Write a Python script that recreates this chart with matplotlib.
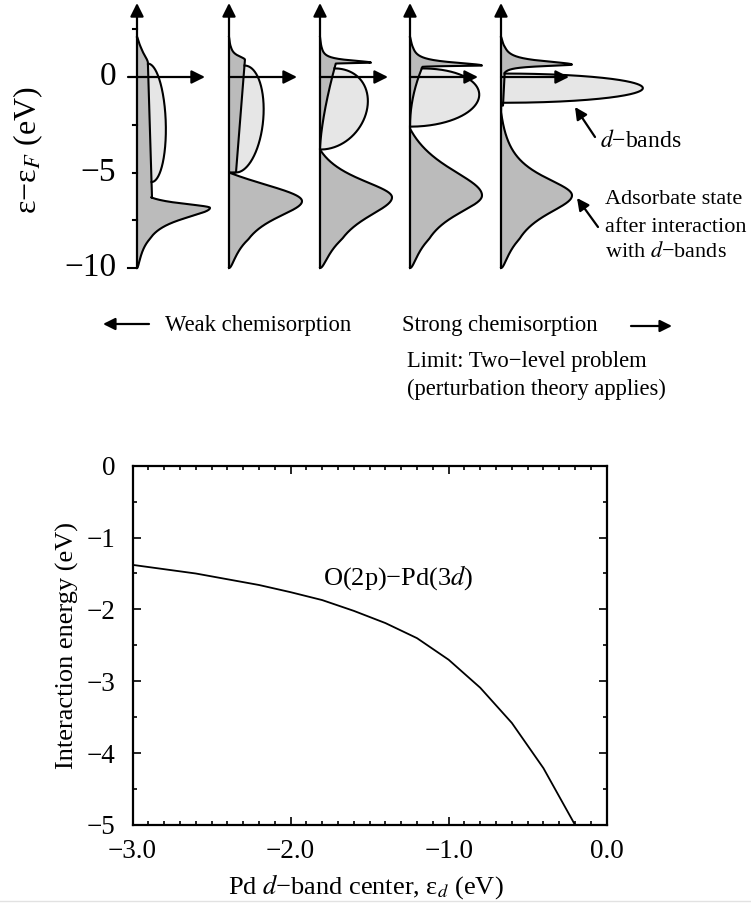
import numpy as np
import matplotlib.pyplot as plt
from matplotlib.ticker import MultipleLocator, FuncFormatter
from matplotlib.lines import Line2D

plt.rcParams['font.family'] = ['Liberation Serif', 'DejaVu Serif']
plt.rcParams['mathtext.fontset'] = 'stix'

W, H = 751, 906

# bottom panel: O(2p)-Pd(3d) interaction energy vs Pd d-band center
d_center = [-3.0, -2.8, -2.6, -2.4, -2.2, -2.0, -1.8, -1.6, -1.4, -1.2, -1.0, -0.8, -0.6, -0.4, -0.2]
e_interaction = [-1.38, -1.44, -1.50, -1.58, -1.66, -1.76, -1.87, -2.02, -2.19, -2.40,
                 -2.70, -3.09, -3.58, -4.21, -5.00]

# top panel: schematic DOS columns, weak -> strong chemisorption
# adsorbate bonding state (energy eV, height, lower/upper width, upper cut-off)
bond_E = [-6.85, -6.5, -6.3, -6.2, -6.2]
bond_h = [73, 73, 72, 72, 71]
bond_wlo = [0.75, 1.2, 1.45, 1.37, 1.35]
bond_whi = [0.3, 1.5, 1.3, 2.0, 1.3]
bond_cut = [-5.5, -5.0, -3.8, -2.7, -1.8]
# antibonding state above the d-band
ab_E = [0.7, 0.9, 0.75, 0.6, 0.65]
ab_h = [11, 16, 51, 72, 71]
ab_wlo = [0.03, 0.03, 0.03, 0.03, 0.1]
ab_whi = [0.65, 0.25, 0.15, 0.2, 0.225]
# adsorbate weight inside the d-band region
bg_lo = [-6.3, -5.0, -3.8, -2.6, -1.5]
bg_hi = [0.7, 0.9, 0.75, 0.6, 0.65]
bg_bot = [15, 7, 0, 0, 2]
bg_top = [11, 16, 16, 13, 4]
bg_pow = [1, 1, 1.5, 2, 1]
# d-band (semi-ellipse stacked on the adsorbate part)
d_lo = [-5.5, -5.0, -3.8, -2.6, -1.35]
d_hi = [0.7, 0.6, 0.45, 0.45, 0.18]
d_h = [16, 23, 42, 66, 139]

panel_x = [137, 229, 320, 410, 501]
px_per_eV = 19.1
y_zero = 77


def E_at(py):
    return (y_zero - py) / px_per_eV


def fx(x):
    return x / W


def fy(y):
    return 1 - y / H


def adsorbate(E, i):
    dE = E - bond_E[i]
    L = 1 / (1 + (dE / np.where(dE < 0, bond_wlo[i], bond_whi[i])) ** 2)
    Lc = 1 / (1 + ((bond_cut[i] - bond_E[i]) / bond_whi[i]) ** 2)
    up = np.clip((L - Lc) / (1 - Lc), 0, None)
    bond = np.where(dE < 0, L, np.where(E < bond_cut[i], up, 0)) * bond_h[i]
    bond = bond * np.sqrt(np.clip((E + 10) / 1.5, 0, 1))
    s = (E - bg_lo[i]) / (bg_hi[i] - bg_lo[i])
    inside = (s >= 0) & (s <= 1)
    bg = np.where(inside, bg_bot[i] + (bg_top[i] - bg_bot[i]) * np.clip(s, 0, 1) ** bg_pow[i], 0)
    dA = E - ab_E[i]
    ab = ab_h[i] / (1 + (dA / np.where(dA < 0, ab_wlo[i], ab_whi[i])) ** 2)
    ab = ab * np.sqrt(np.clip((2.1 - E) / 0.6, 0, 1))
    return np.maximum.reduce([bond, bg, ab])


def dband(E, i):
    c = (d_lo[i] + d_hi[i]) / 2
    hw = (d_hi[i] - d_lo[i]) / 2
    t = (E - c) / hw
    return d_h[i] * np.sqrt(np.clip(1 - t ** 2, 0, None))


fig = plt.figure(figsize=(W / 100, H / 100), dpi=100)

# ---------------- top schematic ----------------
ax = fig.add_axes([0, 1 - 300 / H, 1, 300 / H])
ax.set_xlim(0, W)
ax.set_ylim(E_at(300), E_at(0))
ax.axis('off')

dark = '#bbbbbb'
light = '#e6e6e6'
E = np.linspace(-10, 2.1, 2000)
for i, x0 in enumerate(panel_x):
    a = adsorbate(E, i)
    ax.fill_betweenx(E, x0, x0 + a, color=dark, lw=0, zorder=1)
    Ed = np.linspace(d_lo[i], d_hi[i], 600)
    ad = adsorbate(Ed, i)
    dd = dband(Ed, i)
    ax.fill_betweenx(Ed, x0 + ad, x0 + ad + dd, color=light, lw=0, zorder=2)
    ax.plot(x0 + a, E, color='k', lw=1.5, zorder=3)
    ax.plot(x0 + ad + dd, Ed, color='k', lw=1.5, zorder=3)
    # energy axis and Fermi-level arrow
    ax.annotate('', xy=(x0, E_at(3)), xytext=(x0, -10),
                arrowprops=dict(arrowstyle='-|>', lw=1.6, color='k', mutation_scale=20,
                                shrinkA=0, shrinkB=0), zorder=5)
    start = x0 - 9 if i == 0 else x0
    ax.annotate('', xy=(x0 + 68, 0), xytext=(start, 0),
                arrowprops=dict(arrowstyle='-|>', lw=1.6, color='k', mutation_scale=20,
                                shrinkA=0, shrinkB=0), zorder=5)

x0 = panel_x[0]
for e in [2.5, -2.5, -5, -7.5]:
    ax.plot([x0 - 4, x0], [e, e], color='k', lw=1.5)
ax.plot([x0 - 9, x0], [-10, -10], color='k', lw=1.5)
for e, lab in [(0, '0'), (-5, '−5'), (-10, '−10')]:
    ax.text(116, e, lab, ha='right', va='center', fontsize=24)
ax.text(28, E_at(150), 'ε−ε$_F$ (eV)', rotation=90, ha='center', va='center', fontsize=23)

# annotations
arrow_kw = dict(arrowstyle='-|>', lw=1.6, color='k', mutation_scale=18, shrinkA=0, shrinkB=0)
ax.annotate('', xy=(575, E_at(107)), xytext=(595, E_at(137)), arrowprops=arrow_kw)
ax.annotate('', xy=(577, E_at(198)), xytext=(598, E_at(227)), arrowprops=arrow_kw)
fig.text(fx(600), fy(141), '$d$−bands', ha='left', va='center', fontsize=17)
fig.text(fx(605), fy(200), 'Adsorbate state', ha='left', va='center', fontsize=16)
fig.text(fx(605), fy(227), 'after interaction', ha='left', va='center', fontsize=16)
fig.text(fx(605), fy(252), 'with $d$−bands', ha='left', va='center', fontsize=16)

ax.annotate('', xy=(fx(103), fy(324)), xytext=(fx(149), fy(324)),
            xycoords='figure fraction', arrowprops=arrow_kw)
ax.annotate('', xy=(fx(672), fy(326)), xytext=(fx(631), fy(326)),
            xycoords='figure fraction', arrowprops=arrow_kw)
fig.text(fx(165), fy(325), 'Weak chemisorption', ha='left', va='center', fontsize=16.3)
fig.text(fx(402), fy(325), 'Strong chemisorption', ha='left', va='center', fontsize=16.3)
fig.text(fx(407), fy(362), 'Limit: Two−level problem', ha='left', va='center', fontsize=16.3)
fig.text(fx(407), fy(389), '(perturbation theory applies)', ha='left', va='center', fontsize=16.3)

# ---------------- bottom plot ----------------
ax2 = fig.add_axes([fx(132.5), fy(825), (606.7 - 132.5) / W, (825 - 465.7) / H])
ax2.plot(d_center, e_interaction, color='k', lw=1.3)
ax2.set_xlim(-3, 0)
ax2.set_ylim(-5, 0)
ax2.xaxis.set_major_locator(MultipleLocator(1))
ax2.xaxis.set_minor_locator(MultipleLocator(0.1))
ax2.yaxis.set_major_locator(MultipleLocator(1))
ax2.yaxis.set_minor_locator(MultipleLocator(0.5))
ax2.xaxis.set_major_formatter(FuncFormatter(
    lambda v, p: ('%.1f' % (0.0 if abs(v) < 1e-9 else v)).replace('-', '−')))
ax2.yaxis.set_major_formatter(FuncFormatter(
    lambda v, p: ('%d' % round(v)).replace('-', '−')))
ax2.tick_params(which='both', direction='in', top=True, right=True, width=1.2, labelsize=19.5)
ax2.tick_params(which='major', length=5.5)
ax2.tick_params(which='minor', length=3)
ax2.tick_params(axis='y', pad=12)
ax2.tick_params(axis='x', pad=10)
for sp in ax2.spines.values():
    sp.set_linewidth(1.6)
ax2.set_ylabel('Interaction energy (eV)', fontsize=19)
ax2.set_xlabel('Pd $d$−band center, ε$_d$ (eV)', fontsize=19)
ax2.yaxis.set_label_coords(-0.113, 0.5)
ax2.xaxis.set_label_coords(0.492, -0.13)
ax2.text(-1.32, -1.55, 'O(2p)−Pd(3$d$)', ha='center', va='center', fontsize=19)

fig.add_artist(Line2D([0, 1], [fy(901), fy(901)], color='#e2e2e2', lw=1))

fig.savefig('out.png', dpi=100)
